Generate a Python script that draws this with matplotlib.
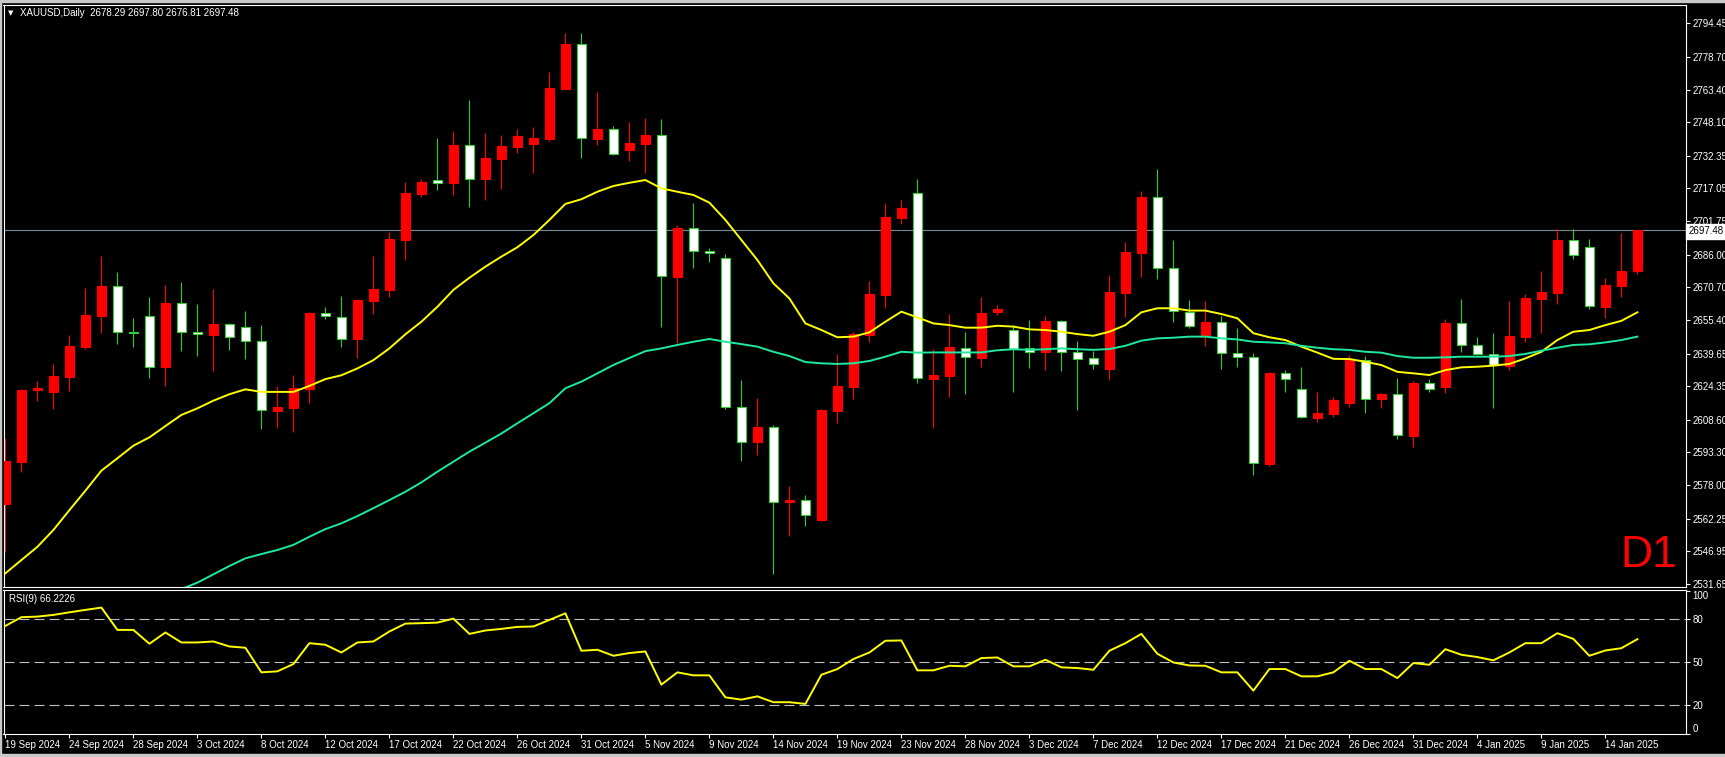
import matplotlib
matplotlib.use('Agg')
import matplotlib.pyplot as plt
from matplotlib.patches import Rectangle

plt.rcParams['font.family'] = ['Liberation Sans', 'DejaVu Sans']
plt.rcParams['lines.scale_dashes'] = False

# daily XAUUSD candles, 19 Sep 2024 .. 16 Jan 2025
opens = [2569.3, 2589.0, 2622.5, 2621.8, 2628.8, 2642.9, 2657.4, 2671.3, 2649.9, 2657.1,
         2633.5, 2663.2, 2649.6, 2648.5, 2653.4, 2651.9, 2645.4, 2612.9, 2614.3, 2623.0,
         2658.5, 2656.8, 2646.5, 2664.4, 2669.4, 2692.9, 2714.5, 2720.9, 2719.6, 2737.3,
         2721.6, 2731.0, 2736.6, 2738.0, 2740.2, 2763.8, 2784.7, 2740.4, 2744.8, 2735.2,
         2738.0, 2742.0, 2675.4, 2698.4, 2687.6, 2684.3, 2614.5, 2598.3, 2605.1, 2570.0,
         2570.9, 2561.6, 2612.7, 2624.0, 2648.4, 2667.1, 2703.3, 2714.8, 2627.9, 2629.3,
         2642.4, 2637.7, 2659.0, 2650.6, 2642.1, 2640.2, 2654.8, 2640.4, 2637.4, 2632.4,
         2668.2, 2686.9, 2712.9, 2679.6, 2659.3, 2648.4, 2654.3, 2639.8, 2637.9, 2588.0,
         2630.4, 2622.9, 2609.6, 2611.5, 2616.6, 2636.5, 2618.2, 2620.6, 2601.2, 2625.7,
         2624.0, 2653.8, 2643.5, 2639.6, 2634.0, 2647.6, 2665.2, 2668.2, 2692.9, 2689.5,
         2661.6, 2671.5, 2678.29]
highs = [2599.9, 2623.0, 2626.7, 2634.8, 2648.4, 2670.5, 2685.4, 2677.8, 2656.2, 2666.2,
         2671.8, 2673.2, 2662.9, 2669.9, 2654.0, 2659.7, 2653.0, 2624.5, 2629.6, 2659.3,
         2661.6, 2666.6, 2665.2, 2685.4, 2696.8, 2720.1, 2721.5, 2740.8, 2744.0, 2758.5,
         2742.9, 2742.1, 2744.9, 2746.0, 2771.8, 2790.0, 2790.0, 2762.4, 2746.3, 2748.2,
         2750.2, 2749.6, 2699.9, 2710.1, 2689.0, 2686.3, 2627.3, 2618.9, 2606.0, 2577.4,
         2573.4, 2613.6, 2639.5, 2650.0, 2673.6, 2710.2, 2711.6, 2721.5, 2641.8, 2658.2,
         2649.7, 2666.2, 2662.4, 2653.0, 2655.4, 2657.3, 2655.4, 2645.5, 2641.0, 2676.3,
         2691.8, 2715.8, 2726.2, 2692.9, 2664.8, 2664.3, 2657.3, 2651.5, 2639.8, 2630.9,
         2631.9, 2633.2, 2621.6, 2619.4, 2639.0, 2638.5, 2621.3, 2628.4, 2627.0, 2627.7,
         2655.9, 2665.2, 2647.3, 2649.2, 2664.3, 2667.4, 2678.3, 2697.9, 2697.9, 2693.3,
         2675.2, 2696.0, 2697.80]
lows = [2546.8, 2584.3, 2617.6, 2613.5, 2622.1, 2641.8, 2649.4, 2644.1, 2642.9, 2628.4,
        2624.6, 2641.0, 2638.3, 2631.6, 2641.3, 2637.2, 2604.4, 2604.9, 2603.0, 2616.3,
        2655.9, 2642.9, 2637.7, 2658.3, 2666.3, 2683.5, 2713.1, 2716.3, 2714.0, 2708.5,
        2711.6, 2716.8, 2733.8, 2724.4, 2739.4, 2763.5, 2731.5, 2737.4, 2732.7, 2729.9,
        2724.3, 2652.3, 2644.5, 2679.9, 2682.7, 2613.5, 2589.3, 2592.3, 2536.5, 2554.3,
        2558.9, 2561.2, 2607.1, 2618.6, 2645.1, 2661.0, 2700.4, 2626.0, 2604.9, 2619.3,
        2620.8, 2633.5, 2657.6, 2621.8, 2633.0, 2632.0, 2631.6, 2613.3, 2632.6, 2627.4,
        2656.6, 2675.7, 2674.7, 2654.6, 2651.8, 2643.3, 2632.6, 2633.5, 2582.9, 2587.1,
        2621.6, 2609.3, 2607.7, 2610.0, 2614.7, 2611.7, 2614.0, 2599.5, 2596.0, 2621.8,
        2621.3, 2640.4, 2638.8, 2614.3, 2632.0, 2644.9, 2649.2, 2662.7, 2684.1, 2660.7,
        2656.4, 2666.3, 2676.81]
closes = [2589.3, 2622.6, 2623.3, 2629.1, 2643.2, 2657.7, 2671.3, 2649.6, 2649.5, 2633.5,
          2663.3, 2649.6, 2648.7, 2653.5, 2647.6, 2645.4, 2613.0, 2614.6, 2623.4, 2658.6,
          2657.1, 2646.6, 2664.8, 2669.9, 2693.4, 2715.1, 2720.1, 2719.7, 2737.4, 2721.6,
          2731.3, 2736.9, 2741.6, 2740.7, 2764.1, 2784.7, 2740.5, 2744.9, 2733.3, 2738.2,
          2742.1, 2675.9, 2698.5, 2687.6, 2687.0, 2614.5, 2598.3, 2605.2, 2569.9, 2571.0,
          2563.9, 2613.3, 2624.5, 2648.8, 2667.6, 2703.7, 2707.9, 2628.1, 2629.5, 2642.7,
          2637.9, 2658.6, 2660.4, 2642.0, 2640.4, 2654.8, 2640.2, 2637.2, 2634.6, 2668.5,
          2687.3, 2713.0, 2679.6, 2659.6, 2652.7, 2654.4, 2639.8, 2637.9, 2588.2, 2630.4,
          2627.6, 2609.8, 2611.7, 2617.9, 2636.9, 2618.2, 2620.7, 2601.4, 2625.7, 2622.9,
          2653.8, 2643.5, 2639.3, 2634.2, 2647.9, 2665.7, 2668.5, 2692.9, 2685.7, 2662.0,
          2671.8, 2678.3, 2697.48]

# fast moving average (yellow)
ma_fast = [2536.7, 2542.9, 2549.1, 2557.0, 2566.3, 2575.4, 2584.8, 2590.6, 2596.5, 2600.4,
           2605.7, 2610.9, 2614.0, 2617.6, 2620.6, 2622.9, 2621.7, 2621.7, 2621.7, 2624.5,
           2627.7, 2629.5, 2632.7, 2636.6, 2642.1, 2648.7, 2654.6, 2661.6, 2669.5, 2675.2,
           2680.4, 2685.1, 2689.5, 2695.2, 2702.3, 2709.8, 2712.0, 2715.5, 2718.2, 2719.7,
           2721.0, 2717.1, 2715.5, 2714.0, 2710.4, 2702.3, 2692.9, 2683.5, 2672.6, 2665.5,
           2653.8, 2650.7, 2647.3, 2647.6, 2649.6, 2654.6, 2659.3, 2656.6, 2653.8, 2653.0,
           2651.8, 2651.8, 2652.7, 2652.3, 2651.0, 2650.7, 2649.9, 2648.8, 2648.0, 2649.9,
           2653.0, 2659.0, 2660.9, 2660.9, 2659.8, 2659.8, 2658.2, 2656.2, 2649.2, 2647.3,
           2646.0, 2642.9, 2640.1, 2637.2, 2637.1, 2635.8, 2634.3, 2631.1, 2630.4, 2629.6,
           2631.9, 2633.2, 2633.5, 2634.0, 2634.8, 2637.4, 2640.5, 2646.0, 2649.9, 2650.7,
           2653.0, 2655.0, 2659.0]
# slow moving average (teal), visible from bar 11 on
slow_start = 11
ma_slow = [2529.3, 2532.3, 2536.2, 2540.1, 2543.7, 2545.7, 2547.6, 2550.0, 2553.8, 2557.4,
           2560.1, 2563.5, 2567.2, 2571.0, 2574.9, 2579.3, 2584.3, 2589.0, 2593.7, 2597.9,
           2602.2, 2607.0, 2611.7, 2616.4, 2623.4, 2626.5, 2630.4, 2634.3, 2637.6, 2640.8,
           2642.1, 2643.7, 2645.2, 2646.5, 2645.2, 2644.1, 2642.9, 2640.5, 2638.5, 2635.7,
           2635.1, 2634.8, 2635.1, 2636.2, 2638.2, 2640.5, 2640.1, 2640.2, 2640.2, 2640.2,
           2640.2, 2641.2, 2641.7, 2641.4, 2641.7, 2642.1, 2641.7, 2641.4, 2641.8, 2643.3,
           2645.7, 2646.8, 2647.1, 2647.6, 2647.6, 2646.8, 2646.3, 2645.2, 2644.9, 2644.5,
           2643.3, 2642.4, 2641.7, 2641.4, 2640.5, 2640.1, 2638.5, 2637.7, 2637.7, 2637.9,
           2638.2, 2638.2, 2638.2, 2638.5, 2639.5, 2641.0, 2642.4, 2643.7, 2644.0, 2644.9,
           2646.0, 2647.6]

rsi = [75.3, 81.4, 81.8, 83.0, 84.8, 86.5, 88.1, 72.5, 72.5, 62.8,
       70.7, 63.7, 63.7, 64.4, 60.9, 60.0, 42.8, 43.5, 48.6, 63.2,
       62.1, 56.7, 63.7, 64.4, 71.4, 76.9, 77.2, 77.6, 80.4, 69.7,
       72.1, 73.2, 74.6, 74.9, 79.5, 84.1, 57.9, 58.6, 54.4, 56.3,
       57.4, 34.2, 42.8, 40.7, 40.7, 25.3, 23.7, 26.0, 21.9, 21.9,
       20.7, 41.1, 45.1, 52.1, 56.7, 64.9, 65.1, 44.2, 44.2, 47.4,
       47.0, 52.8, 53.2, 47.0, 47.0, 51.6, 46.3, 45.8, 44.6, 57.9,
       63.2, 69.7, 55.8, 49.7, 47.6, 47.4, 42.8, 42.8, 30.0, 45.1,
       45.1, 40.0, 40.0, 42.8, 50.9, 45.1, 45.1, 38.8, 49.3, 48.1,
       59.0, 55.1, 53.5, 51.2, 56.7, 63.2, 63.2, 70.2, 66.2, 54.4,
       58.1, 59.7, 66.0]

price_ticks = [2794.45, 2778.70, 2763.40, 2748.10, 2732.35, 2717.05, 2701.75, 2686.00,
               2670.70, 2655.40, 2639.65, 2624.35, 2608.60, 2593.30, 2578.00, 2562.25,
               2546.95, 2531.65]
date_labels = ['19 Sep 2024', '24 Sep 2024', '28 Sep 2024', '3 Oct 2024', '8 Oct 2024',
               '12 Oct 2024', '17 Oct 2024', '22 Oct 2024', '26 Oct 2024', '31 Oct 2024',
               '5 Nov 2024', '9 Nov 2024', '14 Nov 2024', '19 Nov 2024', '23 Nov 2024',
               '28 Nov 2024', '3 Dec 2024', '7 Dec 2024', '12 Dec 2024', '17 Dec 2024',
               '21 Dec 2024', '26 Dec 2024', '31 Dec 2024', '4 Jan 2025', '9 Jan 2025',
               '14 Jan 2025']
rsi_levels = [80, 50, 20]
last_price = 2697.48

W, H = 1725, 757
fig = plt.figure(figsize=(W / 100, H / 100), dpi=100, facecolor='black')


def box(l, t, r, b):
    return [l / W, 1 - b / H, (r - l) / W, (b - t) / H]


# window frame strips
for rect in [(0, 0, W, 1.7), (0, 0, 1, H), (0, 754, W, 3)]:
    fig.patches.append(Rectangle((rect[0] / W, 1 - (rect[1] + rect[3]) / H), rect[2] / W, rect[3] / H,
                                 transform=fig.transFigure, color='#c8c8c8', zorder=0))

ax = fig.add_axes(box(3.5, 4.7, 1686, 586.7))
ar = fig.add_axes(box(3.5, 589.5, 1686, 733.5))
xlim = (-0.12, 105.04)

for a in (ax, ar):
    a.set_facecolor('black')
    a.set_xlim(*xlim)
    for s in a.spines.values():
        s.set_color('white')
        s.set_linewidth(0.8)

# --- main price panel ---
ax.set_ylim(2530.40, 2803.17)
ax.axhline(last_price, color='#778899', lw=0.8, zorder=1)

n = len(opens)
for k in range(n):
    o, h, l, c = opens[k], highs[k], lows[k], closes[k]
    if c >= o:
        wick, face, edge = '#ff0000', '#ff0000', '#ff0000'
    else:
        wick, face, edge = '#32cd32', 'white', '#32cd32'
    ax.vlines(k, l, h, color=wick, lw=0.8, zorder=2)
    ax.bar(k, max(abs(c - o), 0.3), bottom=min(o, c), width=0.6,
           facecolor=face, edgecolor=edge, linewidth=0.8, zorder=3)

ax.plot(range(n), ma_fast, color='#ffff00', lw=1.4, zorder=4)
ax.plot(range(slow_start, slow_start + len(ma_slow)), ma_slow, color='#1de9a0', lw=1.4, zorder=4)

ax.yaxis.tick_right()
ax.set_yticks(price_ticks)
ax.set_yticklabels(['%.2f' % p for p in price_ticks])
ax.tick_params(axis='y', colors='white', length=3, width=0.8, pad=1.5, labelsize=7)
ax.tick_params(axis='x', bottom=False, labelbottom=False)

ax.text(1.0017, last_price - 0.6, '%.2f' % last_price, transform=ax.get_yaxis_transform(),
        ha='left', va='center', fontsize=7, color='black', zorder=6, clip_on=False,
        bbox=dict(boxstyle='square,pad=0.25', fc='white', ec='white'))

fig.text(8 / W, 1 - 12.7 / H, '\u25bc', color='white', fontsize=5, va='center',
         family=['DejaVu Sans'])
fig.text(20 / W, 1 - 12.7 / H, 'XAUUSD,Daily  2678.29 2697.80 2676.81 2697.48',
         color='white', fontsize=7, va='center')
fig.text(1677 / W, 1 - 567 / H, 'D1', color='#ff0000', fontsize=32, ha='right', va='baseline')

# --- RSI panel ---
ar.set_ylim(0.35, 100.77)
for lv in rsi_levels:
    ar.axhline(lv, color='#c0c0c0', lw=0.8, dashes=(7.2, 3.6), zorder=1)
ar.plot(range(len(rsi)), rsi, color='#ffff00', lw=1.4, zorder=3)

ar.yaxis.tick_right()
ar.set_yticks([100, 80, 50, 20, 0])
ar.set_yticklabels(['100', '80', '50', '20', '0'])
ar.tick_params(axis='y', colors='white', length=3, width=0.8, pad=1.5, labelsize=7)
ylabs = ar.get_yticklabels()
ylabs[0].set_va('top')
ylabs[-1].set_va('bottom')

ar.set_xticks(range(0, 4 * len(date_labels), 4))
ar.set_xticklabels(date_labels)
ar.tick_params(axis='x', colors='white', length=3, width=0.8, pad=1.5, labelsize=7)
for lbl in ar.get_xticklabels():
    lbl.set_ha('left')

fig.text(9.3 / W, 1 - 599 / H, 'RSI(9) 66.2226', color='white', fontsize=7, va='center')

fig.savefig('out.png', dpi=100, facecolor='black')
